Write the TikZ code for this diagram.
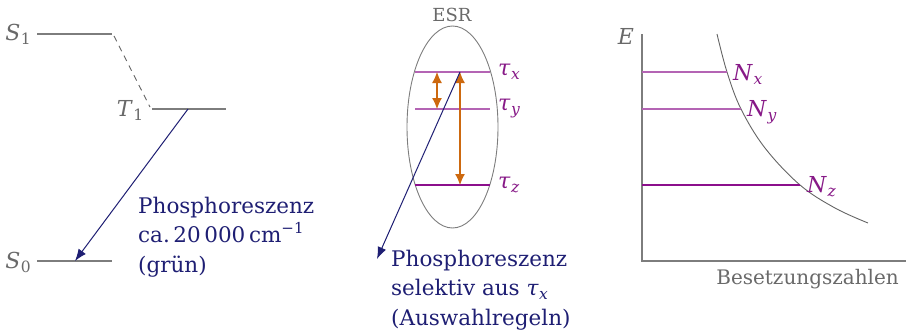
\documentclass[tikz,border=0pt]{standalone}
\usepackage{fontspec}
\setmainfont{DejaVu Serif}
\usetikzlibrary{arrows.meta,shapes.geometric}
\definecolor{lvgray}{RGB}{125,125,125}
\definecolor{txgray}{RGB}{105,105,105}
\definecolor{navyc}{RGB}{30,30,115}
\definecolor{lpurp}{RGB}{180,100,180}
\definecolor{dpurp}{RGB}{140,15,140}
\definecolor{lbpurp}{RGB}{135,25,135}
\definecolor{orng}{RGB}{205,105,15}
\newcommand\sbs[2]{#1\kern0.02em\raisebox{-0.35ex}{\fontsize{15.5}{15.5}\selectfont #2}}
\begin{document}
\begin{tikzpicture}[x=1pt,y=-1pt,
  level/.style={draw=lvgray, line width=1.3pt},
  axisline/.style={draw=lvgray, line width=1.3pt},
  thin/.style={draw=lvgray!80!black, line width=0.9pt},
  lvlight/.style={draw=lpurp, line width=1.4pt},
  lvdark/.style={draw=dpurp, line width=1.15pt},
  emis/.style={draw=navyc, line width=1.0pt, -{Latex[length=12pt,width=9pt]}},
  trans/.style={draw=orng, line width=1.1pt, {Latex[length=11pt,width=10pt]}-{Latex[length=11pt,width=10pt]}},
  glab/.style={text=txgray, inner sep=0pt, font=\fontsize{22}{26}\selectfont},
  plab/.style={text=lbpurp, inner sep=0pt, font=\fontsize{22}{26}\selectfont},
  btxt/.style={text=navyc, inner sep=0pt, align=left, font=\fontsize{21.5}{29.5}\selectfont}
]
\useasboundingbox (0,0) rectangle (906,332);

% ---------- left: Jablonski ----------
\coordinate (s1a) at (37,34);
\coordinate (s1b) at (112,34);
\coordinate (t1a) at (152,109);
\coordinate (t1b) at (226,109);
\coordinate (s0a) at (37,261);
\coordinate (s0b) at (112,261);
\coordinate (dstart) at (114,36);
\coordinate (dend) at (150,107);
\coordinate (emA) at (188,109);
\coordinate (emB) at (75,261);
\draw[level] (s1a) -- (s1b);
\draw[level] (t1a) -- (t1b);
\draw[level] (s0a) -- (s0b);
\draw[thin, dash pattern=on 6pt off 5pt] (dstart) -- (dend);
\draw[emis] (emA) -- (emB);
\node[glab] (S1) at (18,34) {\sbs{\textit{S}}{1}};
\node[glab] (T1) at (130,110) {\sbs{\textit{T}}{1}};
\node[glab] (S0) at (18,262) {\sbs{\textit{S}}{0}};
\node[btxt, anchor=west] (ph1) at (138,237) {Phosphoreszenz\\ca.\,20\,000\,cm\raisebox{0.8ex}{\fontsize{15}{15}\selectfont −1}\\(grün)};

% ---------- middle: ESR ----------
\node[draw=lvgray, line width=0.9pt, shape=ellipse, minimum width=91pt, minimum height=202pt, inner sep=0pt] (ell) at (452.5,127) {};
\node[glab, font=\fontsize{18}{22}\selectfont] (esr) at (452,15) {ESR};
\coordinate (txa) at (415,72);  \coordinate (txb) at (490,72);
\coordinate (tya) at (415,109); \coordinate (tyb) at (490,109);
\coordinate (tza) at (415,185); \coordinate (tzb) at (490,185);
\draw[lvlight] (txa) -- (txb);
\draw[lvlight] (tya) -- (tyb);
\draw[lvdark] (tza) -- (tzb);
\node[plab, anchor=west] (tx) at (498,72) {\sbs{\textit{τ}}{\textit{x}}};
\node[plab, anchor=west] (ty) at (498,109) {\sbs{\textit{τ}}{\textit{y}}};
\node[plab, anchor=west] (tz) at (498,185) {\sbs{\textit{τ}}{\textit{z}}};
\coordinate (o1a) at (437,72); \coordinate (o1b) at (437,109);
\coordinate (o2a) at (460,72); \coordinate (o2b) at (460,185);
\draw[trans] (o1a) -- (o1b);
\draw[trans] (o2a) -- (o2b);
\coordinate (e2A) at (460,72);
\coordinate (e2B) at (377,259);
\draw[emis] (e2A) -- (e2B);
\node[btxt, anchor=west] (ph2) at (391,290) {Phosphoreszenz\\selektiv aus \sbs{\textit{τ}}{\textit{x}}\\(Auswahlregeln)};

% ---------- right: populations ----------
\coordinate (ytop) at (642,34);
\coordinate (orig) at (642,261);
\coordinate (xend) at (906,261);
\draw[axisline] (ytop) -- (orig) -- (xend);
\node[glab] (E) at (626,36) {\textit{E}};
\node[glab, font=\fontsize{20}{24}\selectfont, anchor=east] (bes) at (899,279) {Besetzungszahlen};
\draw[thin] plot[smooth, tension=0.6] coordinates {(717,34) (727,72) (741,109) (765,148) (800,185) (835,208) (868,223)};
\coordinate (nxa) at (642,72);  \coordinate (nxb) at (727,72);
\coordinate (nya) at (642,109); \coordinate (nyb) at (741,109);
\coordinate (nza) at (642,185); \coordinate (nzb) at (800,185);
\draw[lvlight] (nxa) -- (nxb);
\draw[lvlight] (nya) -- (nyb);
\draw[lvdark] (nza) -- (nzb);
\node[plab, anchor=west] (Nx) at (733,74) {\sbs{\textit{N}}{\textit{x}}};
\node[plab, anchor=west] (Ny) at (747,112) {\sbs{\textit{N}}{\textit{y}}};
\node[plab, anchor=west] (Nz) at (807,187) {\sbs{\textit{N}}{\textit{z}}};
\end{tikzpicture}
\end{document}
